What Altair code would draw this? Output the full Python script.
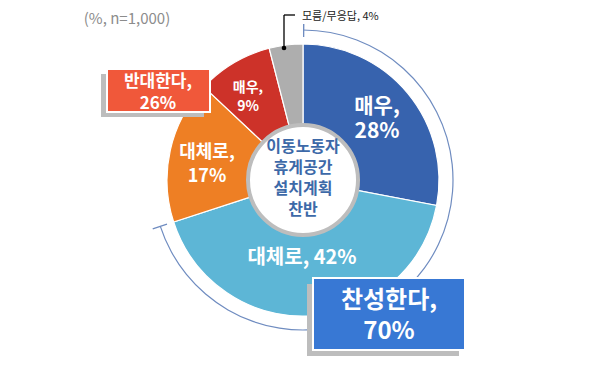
import math
import altair as alt
import pandas as pd

# ---- data ----
categories = ["매우 찬성", "대체로 찬성", "대체로 반대", "매우 반대", "모름/무응답"]
values = [28, 42, 17, 9, 4]
colors = ["#3763AE", "#5DB6D6", "#EE7F24", "#CD3229", "#AEAEAE"]
slice_labels = ["매우,\n28%", "대체로, 42%", "대체로,\n17%", "매우,\n9%", "모름/무응답, 4%"]
group_labels = ["찬성한다,\n70%", "반대한다,\n26%"]
group_values = [70, 26]
center_title = ["이동노동자", "휴게공간", "설치계획", "찬반"]
note = "(%, n=1,000)"

FONT = "Noto Sans CJK KR"
CX, CY = 295, 172
W, H = 589, 354

df = pd.DataFrame({"cat": categories, "value": values, "idx": list(range(len(values)))})


def one(txt="x"):
    return alt.Chart(pd.DataFrame({"t": [txt]}))


def label(txt, x, y, size, color="white", weight="bold", align="center", lh=None):
    # y is the middle of the first line
    kw = dict(fontSize=size, fontWeight=weight, font=FONT, color=color,
              align=align, baseline="middle", lineBreak="\n")
    if lh:
        kw["lineHeight"] = lh
    return one(txt).mark_text(**kw).encode(x=alt.value(x), y=alt.value(y), text="t:N")


def rect(x1, x2, y1, y2, fill, stroke=None, sw=0):
    kw = dict(color=fill)
    if stroke:
        kw.update(stroke=stroke, strokeWidth=sw)
    return one().mark_rect(**kw).encode(
        x=alt.value(x1), x2=alt.value(x2), y=alt.value(y1), y2=alt.value(y2)
    )


pie = alt.Chart(df).mark_arc(
    outerRadius=136, innerRadius=54, stroke="white", strokeWidth=1.2
).encode(
    x=alt.value(CX), y=alt.value(CY),
    theta=alt.Theta("value:Q", stack=True),
    order=alt.Order("idx:Q"),
    color=alt.Color("cat:N", scale=alt.Scale(domain=categories, range=colors), legend=None),
)

hole = one().mark_arc(
    outerRadius=55, innerRadius=0, theta=0, theta2=2 * math.pi,
    fill="white", stroke="#BDBDBD", strokeWidth=4
).encode(x=alt.value(CX), y=alt.value(CY))

BR = "#6F8CC0"
bracket = alt.Chart(pd.DataFrame({"v": [group_values[0]]})).mark_arc(
    innerRadius=149.4, outerRadius=150.6, color=BR
).encode(
    x=alt.value(CX), y=alt.value(CY),
    theta=alt.Theta("v:Q", stack=True, scale=alt.Scale(domain=[0, 100])),
)
t_end = 2 * math.pi * group_values[0] / 100
tick1 = one().mark_arc(innerRadius=143, outerRadius=156, theta=0, theta2=0.009, color=BR).encode(
    x=alt.value(CX), y=alt.value(CY))
tick2 = one().mark_arc(innerRadius=143, outerRadius=158, theta=t_end - 0.0045, theta2=t_end + 0.0045,
                       color=BR).encode(x=alt.value(CX), y=alt.value(CY))

# leader for 모름/무응답
lead_v = one().mark_rule(color="black", strokeWidth=1.3).encode(
    x=alt.value(276), y=alt.value(40), y2=alt.value(7))
lead_h = one().mark_rule(color="black", strokeWidth=1.3).encode(
    x=alt.value(276), x2=alt.value(287), y=alt.value(7))
dot = one().mark_point(filled=True, color="black", size=22, opacity=1).encode(
    x=alt.value(276), y=alt.value(40))

layers = [pie, hole, bracket, tick1, tick2, lead_v, lead_h, dot]

# note
layers.append(label(note, 119, 11, 15, color="#8C8C8C", weight="normal"))
layers.append(label(slice_labels[4], 294, 9, 11, color="#222222", weight="normal", align="left"))

# slice labels
layers.append(label(slice_labels[0], 369, 99, 21, lh=25))
layers.append(label(slice_labels[1], 294, 250, 20))
layers.append(label(slice_labels[2], 199, 145, 18, lh=24))
layers.append(label(slice_labels[3], 240, 80, 14, lh=19))

# center title
layers.append(label("\n".join(center_title), CX, 139, 16, color="#3D69A8", lh=21))

# 찬성 box
layers.append(rect(299, 451, 276, 348, "#BDBDBD"))
layers.append(rect(305, 457, 270, 342, "#3878D4", stroke="white", sw=2))
layers.append(label(group_labels[0], 381, 293, 24, lh=31))

# 반대 box
layers.append(rect(93, 196, 66, 109, "#BDBDBD"))
layers.append(rect(99, 202, 61, 104, "#F0583A", stroke="white", sw=2))
layers.append(label(group_labels[1], 150, 74, 17, lh=22))

chart = alt.layer(*layers).properties(
    width=W, height=H, padding=0, autosize="none"
).configure_view(stroke=None)

chart.save("out.html", embed_options={"renderer": "svg", "actions": False})
